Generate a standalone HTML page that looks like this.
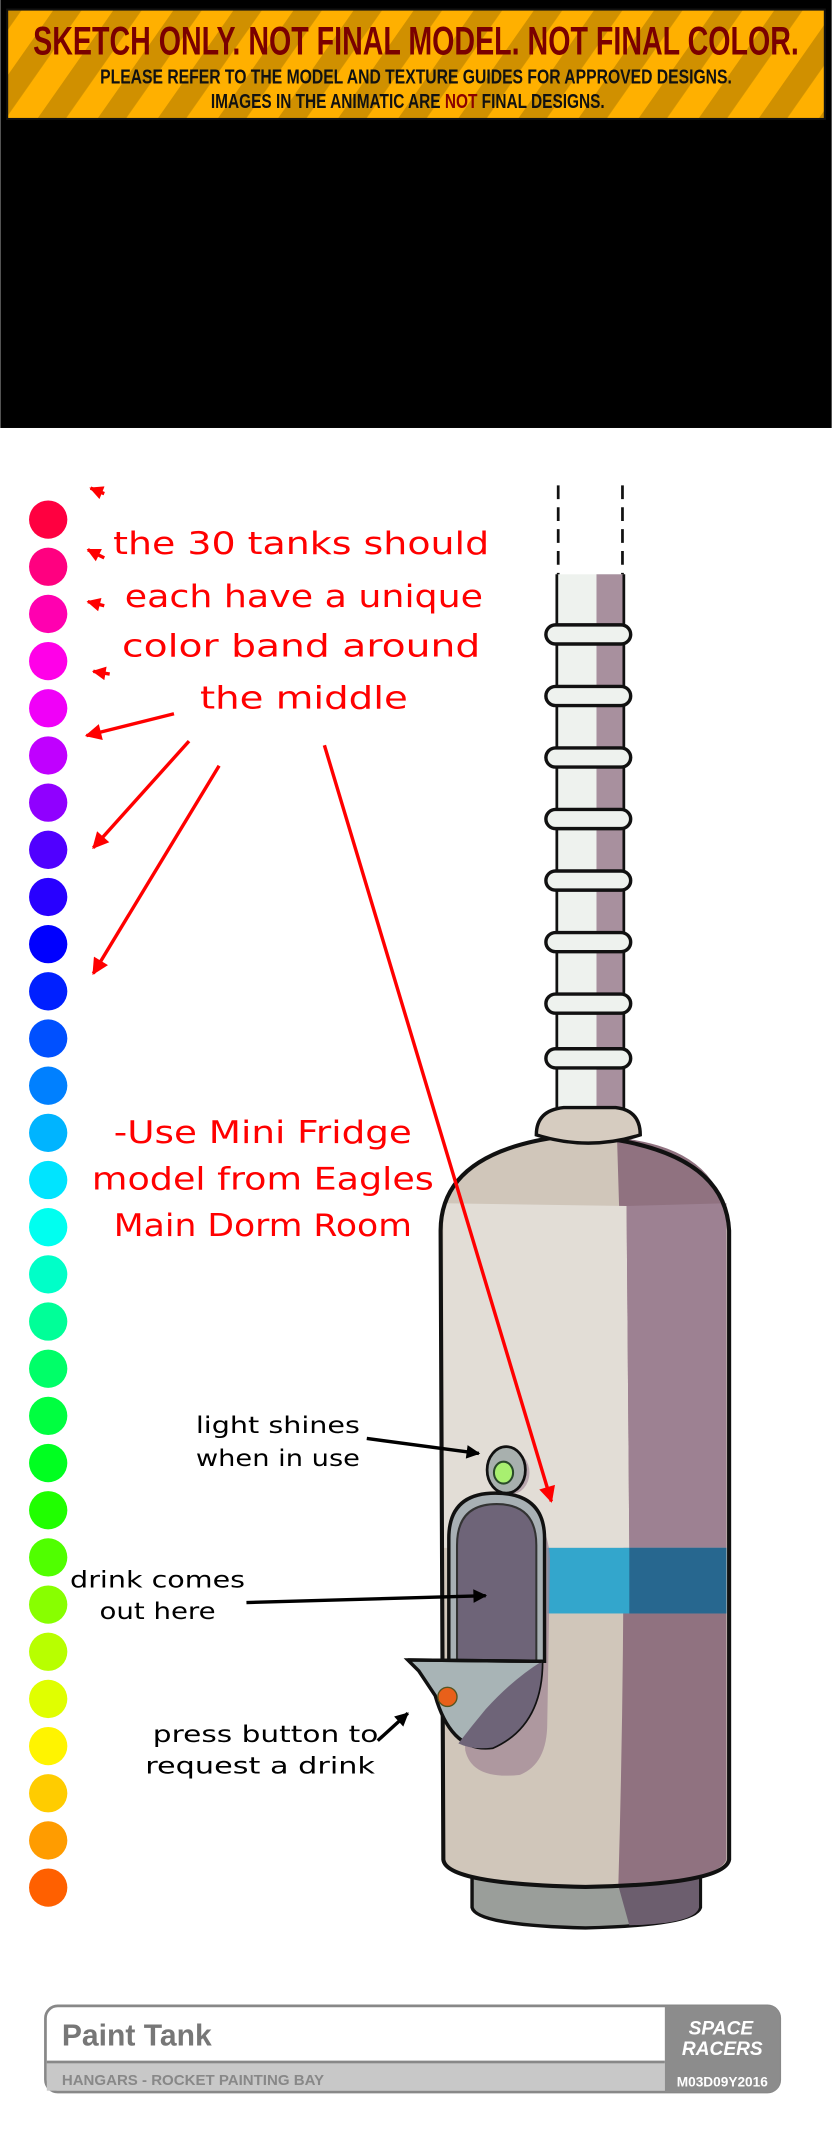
<!DOCTYPE html>
<html><head><meta charset="utf-8"><style>
html,body{margin:0;padding:0;background:#fff;}
svg{display:block;}
.r{font-family:"DejaVu Sans","Liberation Sans",sans-serif;fill:#f00;font-size:23px;}
.k{font-family:"DejaVu Sans","Liberation Sans",sans-serif;fill:#000;font-size:17px;}
</style></head><body>
<svg width="832" height="2144" viewBox="0 0 608 1568" xmlns="http://www.w3.org/2000/svg">
<defs>
<pattern id="st" width="36" height="36" patternUnits="userSpaceOnUse" patternTransform="rotate(35)">
<rect width="36" height="36" fill="#ffb000"/><rect width="17" height="36" fill="#d09000"/></pattern>
<marker id="ar" viewBox="0 0 10 10" markerWidth="11" markerHeight="10" refX="9" refY="5" orient="auto" markerUnits="userSpaceOnUse"><path d="M0,0 L10,5 L0,10 z" fill="#f00"/></marker>
<marker id="ar2" viewBox="0 0 10 10" markerWidth="14" markerHeight="12" refX="9" refY="5" orient="auto" markerUnits="userSpaceOnUse"><path d="M0,0 L10,5 L0,10 z" fill="#f00"/></marker>
<marker id="ak" viewBox="0 0 10 10" markerWidth="14" markerHeight="10" refX="9" refY="5" orient="auto" markerUnits="userSpaceOnUse"><path d="M0,0 L10,5 L0,10 z" fill="#000"/></marker>
</defs>
<rect x="0" y="0" width="608" height="313" fill="#000"/>
<rect x="5" y="7" width="598" height="80" fill="url(#st)" stroke="#111" stroke-width="1.5"/>
<text x="304" y="40" text-anchor="middle" font-family="Liberation Sans Narrow,Liberation Sans,sans-serif" font-weight="bold" font-size="29" fill="#7a0000" textLength="560" lengthAdjust="spacingAndGlyphs">SKETCH ONLY.   NOT FINAL MODEL.   NOT FINAL COLOR.</text>
<text x="304" y="61" text-anchor="middle" font-family="Liberation Sans Narrow,Liberation Sans,sans-serif" font-weight="bold" font-size="15" fill="#111" textLength="462" lengthAdjust="spacingAndGlyphs">PLEASE REFER TO THE MODEL AND TEXTURE GUIDES FOR APPROVED DESIGNS.</text>
<text x="298" y="79" text-anchor="middle" font-family="Liberation Sans Narrow,Liberation Sans,sans-serif" font-weight="bold" font-size="15" fill="#111" textLength="288" lengthAdjust="spacingAndGlyphs">IMAGES IN THE ANIMATIC ARE <tspan fill="#8a0000">NOT</tspan> FINAL DESIGNS.</text>

<g>
<circle cx="35" cy="380" r="14" fill="#ff0040"/><circle cx="35" cy="414.5" r="14" fill="#ff0080"/><circle cx="35" cy="449" r="14" fill="#ff00b0"/><circle cx="35" cy="483.5" r="14" fill="#ff00e8"/><circle cx="35" cy="518" r="14" fill="#f000f8"/><circle cx="35" cy="552.5" r="14" fill="#c000ff"/><circle cx="35" cy="587" r="14" fill="#9000ff"/><circle cx="35" cy="621.5" r="14" fill="#5000ff"/><circle cx="35" cy="656" r="14" fill="#2800ff"/><circle cx="35" cy="690.5" r="14" fill="#0000ff"/><circle cx="35" cy="725" r="14" fill="#0020ff"/><circle cx="35" cy="759.5" r="14" fill="#0050ff"/><circle cx="35" cy="794" r="14" fill="#0080ff"/><circle cx="35" cy="828.5" r="14" fill="#00b4ff"/><circle cx="35" cy="863" r="14" fill="#00e4ff"/><circle cx="35" cy="897.5" r="14" fill="#00fff0"/><circle cx="35" cy="932" r="14" fill="#00ffc8"/><circle cx="35" cy="966.5" r="14" fill="#00ff98"/><circle cx="35" cy="1001" r="14" fill="#00ff68"/><circle cx="35" cy="1035.5" r="14" fill="#00ff40"/><circle cx="35" cy="1070" r="14" fill="#00ff20"/><circle cx="35" cy="1104.5" r="14" fill="#20ff00"/><circle cx="35" cy="1139" r="14" fill="#50ff00"/><circle cx="35" cy="1173.5" r="14" fill="#88ff00"/><circle cx="35" cy="1208" r="14" fill="#b8ff00"/><circle cx="35" cy="1242.5" r="14" fill="#e0ff00"/><circle cx="35" cy="1277" r="14" fill="#fff400"/><circle cx="35" cy="1311.5" r="14" fill="#ffcc00"/><circle cx="35" cy="1346" r="14" fill="#ff9c00"/><circle cx="35" cy="1380.5" r="14" fill="#ff6000"/>
</g>

<g stroke="#f00" stroke-width="2.5" fill="none">
<path d="M76,361 L66,357" marker-end="url(#ar)"/>
<path d="M76,408 L64,402" marker-end="url(#ar)"/>
<path d="M76,443 L64,440" marker-end="url(#ar)"/>
<path d="M80,493 L68,491" marker-end="url(#ar)"/>
<path d="M127,522 L63,538" marker-end="url(#ar2)"/>
<path d="M138,542 L68,620" marker-end="url(#ar2)"/>
<path d="M160,560 L68,712" marker-end="url(#ar2)"/>
</g>
<text class="r" x="220" y="405" text-anchor="middle" textLength="275" lengthAdjust="spacingAndGlyphs">the 30 tanks should</text>
<text class="r" x="222" y="444" text-anchor="middle" textLength="262" lengthAdjust="spacingAndGlyphs">each have a unique</text>
<text class="r" x="220" y="480" text-anchor="middle" textLength="262" lengthAdjust="spacingAndGlyphs">color band around</text>
<text class="r" x="222" y="518" text-anchor="middle" textLength="152" lengthAdjust="spacingAndGlyphs">the middle</text>
<text class="r" x="192" y="836" text-anchor="middle" textLength="218" lengthAdjust="spacingAndGlyphs">-Use Mini Fridge</text>
<text class="r" x="192" y="870" text-anchor="middle" textLength="250" lengthAdjust="spacingAndGlyphs">model from Eagles</text>
<text class="r" x="192" y="904" text-anchor="middle" textLength="218" lengthAdjust="spacingAndGlyphs">Main Dorm Room</text>

<!-- tank shaft -->
<g stroke="#111" stroke-width="2">
<line x1="408" y1="355" x2="408" y2="460" stroke-dasharray="10,6"/>
<line x1="455" y1="355" x2="455" y2="460" stroke-dasharray="10,6"/>
</g>
<rect x="407" y="420" width="49" height="400" fill="#eef2ee"/>
<rect x="436" y="420" width="20" height="400" fill="#a8909e"/>
<line x1="407" y1="420" x2="407" y2="820" stroke="#111" stroke-width="2"/>
<line x1="456" y1="420" x2="456" y2="820" stroke="#111" stroke-width="2"/>
<g fill="#eef2ee" stroke="#111" stroke-width="2.5">
<rect x="399" y="457" width="62" height="14" rx="7"/>
<rect x="399" y="502" width="62" height="14" rx="7"/>
<rect x="399" y="547" width="62" height="14" rx="7"/>
<rect x="399" y="592" width="62" height="14" rx="7"/>
<rect x="399" y="637" width="62" height="14" rx="7"/>
<rect x="399" y="682" width="62" height="14" rx="7"/>
<rect x="399" y="727" width="62" height="14" rx="7"/>
<rect x="399" y="767" width="62" height="14" rx="7"/>
</g>
<!-- base -->
<path d="M345,1370 L345,1395 Q348,1408 428,1410 Q508,1408 512,1395 L512,1370 z" fill="#9a9e9a" stroke="#111" stroke-width="2.5"/>
<path d="M450,1372 L511,1372 L511,1395 Q508,1407 460,1408 z" fill="#6c5e6e"/>
<!-- body -->
<path d="M322,900 Q322,840 420,830 Q530,838 533,900 L533,1360 Q530,1378 428,1380 Q326,1378 324,1360 z" fill="#d0c6ba"/>
<path d="M451,832 Q530,840 531,900 L531,1360 Q525,1376 452,1378 Q460,1100 451,832 z" fill="#907280"/>
<path d="M324,880 L458,882 L460,1132 L324,1132 z" fill="#e2ddd6"/>
<path d="M458,882 L531,880 L531,1132 L460,1132 z" fill="#9d8192"/>
<path d="M322,900 Q322,840 420,830 Q530,838 533,900 L533,1360 Q530,1378 428,1380 Q326,1378 324,1360 z" fill="none" stroke="#111" stroke-width="3"/>
<rect x="400" y="1132" width="131" height="48" fill="#33a6cc"/>
<rect x="460" y="1132" width="71" height="48" fill="#27678f"/>
<!-- collar -->
<path d="M392,830 Q392,812 412,810 L450,810 Q468,812 468,830 Q430,842 392,830 z" fill="#d6ccc0" stroke="#111" stroke-width="2.5"/>
<!-- light -->
<ellipse cx="373" cy="1077" rx="14" ry="16" fill="#a08594" opacity="0.6"/>
<ellipse cx="370" cy="1075" rx="14" ry="17" fill="#a8b0ae" stroke="#111" stroke-width="2"/>
<ellipse cx="368" cy="1077" rx="7" ry="8" fill="#a8f070" stroke="#2a4a2a" stroke-width="1.5"/>
<!-- dispenser -->
<path d="M340,1280 Q345,1302 380,1298 Q400,1290 400,1260 L402,1140 Q400,1103 370,1103 Q338,1103 335,1140 z" fill="#a08594" opacity="0.7"/>
<path d="M328,1215 L328,1125 Q328,1092 362,1092 Q398,1092 398,1125 L398,1215 z" fill="#a8b0b4" stroke="#111" stroke-width="2.5"/>
<path d="M334,1215 L334,1130 Q334,1100 363,1100 Q392,1100 392,1130 L392,1215 z" fill="#6e6478" stroke="#333" stroke-width="1.5"/>
<path d="M298,1214 L396,1215 Q396,1262 360,1278 Q330,1282 318,1240 L306,1222 z" fill="#a8b4b6" stroke="#111" stroke-width="2.5"/>
<path d="M355,1250 Q375,1228 396,1215 Q396,1262 360,1278 Q345,1280 335,1275 Q345,1262 355,1250 z" fill="#6e6478"/>
<line x1="298" y1="1214" x2="396" y2="1215" stroke="#111" stroke-width="2.5"/>
<ellipse cx="327" cy="1241" rx="7" ry="7" fill="#e8601a" stroke="#552" stroke-width="1"/>
<!-- black arrows -->
<g stroke="#000" stroke-width="2.5" fill="none">
<path d="M268,1052 L350,1063" marker-end="url(#ak)"/>
<path d="M180,1172 L355,1167" marker-end="url(#ak)"/>
<path d="M276,1273 L298,1253" marker-end="url(#ak)"/>
</g>
<text class="k" x="203" y="1048" text-anchor="middle" textLength="120" lengthAdjust="spacingAndGlyphs">light shines</text>
<text class="k" x="203" y="1072" text-anchor="middle" textLength="120" lengthAdjust="spacingAndGlyphs">when in use</text>
<text class="k" x="115" y="1161" text-anchor="middle" textLength="128" lengthAdjust="spacingAndGlyphs">drink comes</text>
<text class="k" x="115" y="1184" text-anchor="middle" textLength="85" lengthAdjust="spacingAndGlyphs">out here</text>
<text class="k" x="194" y="1274" text-anchor="middle" textLength="165" lengthAdjust="spacingAndGlyphs">press button to</text>
<text class="k" x="190" y="1297" text-anchor="middle" textLength="168" lengthAdjust="spacingAndGlyphs">request a drink</text>
<!-- long red arrow on top -->
<path d="M237,545 L403,1098" stroke="#f00" stroke-width="2.5" fill="none" marker-end="url(#ar2)"/>

<!-- footer -->
<rect x="33" y="1467" width="537" height="63" rx="9" fill="#fff" stroke="#888" stroke-width="2"/>
<rect x="34" y="1509" width="452" height="20" fill="#c8c8c8"/>
<line x1="34" y1="1508" x2="486" y2="1508" stroke="#888" stroke-width="2"/>
<path d="M486,1467 L561,1467 Q570,1467 570,1476 L570,1521 Q570,1530 561,1530 L486,1530 z" fill="#8c8c8c"/>
<text x="45" y="1496" font-family="Liberation Sans,sans-serif" font-weight="bold" font-size="22" fill="#777">Paint Tank</text>
<text x="45" y="1525" font-family="Liberation Sans,sans-serif" font-weight="bold" font-size="11" fill="#888">HANGARS - ROCKET PAINTING BAY</text>
<text x="527" y="1488" text-anchor="middle" font-family="Liberation Sans,sans-serif" font-weight="bold" font-style="italic" font-size="14" fill="#fff">SPACE</text>
<text x="528" y="1503" text-anchor="middle" font-family="Liberation Sans,sans-serif" font-weight="bold" font-style="italic" font-size="14" fill="#fff">RACERS</text>
<text x="528" y="1526" text-anchor="middle" font-family="Liberation Sans,sans-serif" font-weight="bold" font-size="10" fill="#fff">M03D09Y2016</text>
</svg>
</body></html>
